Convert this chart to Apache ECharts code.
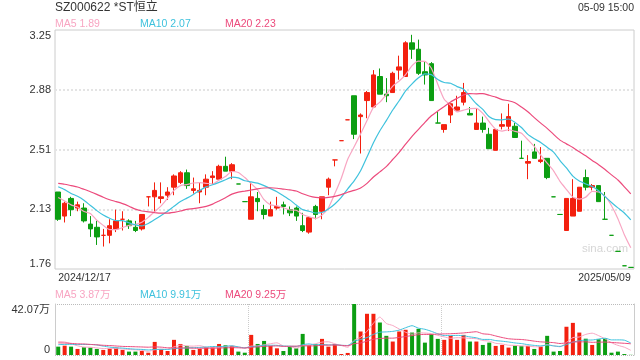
<!DOCTYPE html>
<html><head><meta charset="utf-8">
<script src="https://cdn.jsdelivr.net/npm/echarts@6/dist/echarts.min.js"></script>
<style>html,body{margin:0;padding:0;background:#fff}#c{width:640px;height:360px}</style>
</head><body><div id="c"></div>
<script>
const dates = ['2024/12/17','2024/12/18','2024/12/19','2024/12/20','2024/12/23','2024/12/24','2024/12/25','2024/12/26','2024/12/27','2024/12/30','2024/12/31',
'2025/01/02','2025/01/03','2025/01/06','2025/01/07','2025/01/08','2025/01/09','2025/01/10','2025/01/13','2025/01/14','2025/01/15','2025/01/16','2025/01/17','2025/01/20','2025/01/21','2025/01/22','2025/01/23','2025/01/24','2025/01/27',
'2025/02/10','2025/02/11','2025/02/12','2025/02/13','2025/02/14','2025/02/17','2025/02/18','2025/02/19','2025/02/20','2025/02/21','2025/02/24','2025/02/25','2025/02/26','2025/02/27','2025/02/28',
'2025/03/03','2025/03/04','2025/03/05','2025/03/06','2025/03/07','2025/03/10','2025/03/11','2025/03/12','2025/03/13','2025/03/14','2025/03/17','2025/03/18','2025/03/19','2025/03/20','2025/03/21','2025/03/24','2025/03/25','2025/03/26','2025/03/27','2025/03/28','2025/03/31',
'2025/04/01','2025/04/02','2025/04/03','2025/04/07','2025/04/08','2025/04/09','2025/04/10','2025/04/11','2025/04/14','2025/04/15','2025/04/16','2025/04/17','2025/04/18','2025/04/21','2025/04/22','2025/04/23','2025/04/24','2025/04/25','2025/04/28','2025/04/29','2025/04/30',
'2025/05/06','2025/05/07','2025/05/08','2025/05/09'];

const openP  = [2.24,2.09,2.20,2.14,2.14,2.04,2.02,1.97,1.97,2.01,2.07,2.06,2.02,2.01,2.21,2.21,2.20,2.22,2.27,2.30,
                2.36,2.25,2.24,2.27,2.33,2.32,2.40,2.37,2.29,2.18,2.07,2.20,2.13,2.09,2.14,2.16,2.13,2.14,2.03,1.99,
                2.15,2.12,2.27,2.44,2.56,2.69,2.84,2.71,2.81,2.77,2.96,2.85,2.86,3.00,2.96,3.17,3.13,2.99,3.04,2.67,
                2.63,2.72,2.75,2.80,2.73,2.63,2.67,2.60,2.50,2.65,2.65,2.65,2.45,2.42,2.49,2.43,2.45,2.21,2.10,2.00,
                2.09,2.12,2.33,2.27,2.28,2.07,1.97,1.87,1.78,1.77];
const closeP = [2.07,2.17,2.13,2.16,2.06,2.01,1.96,1.97,2.03,2.06,2.07,2.03,2.00,2.10,2.21,2.25,2.21,2.24,2.34,2.36,
                2.28,2.26,2.25,2.32,2.34,2.40,2.37,2.41,2.29,2.18,2.21,2.18,2.10,2.13,2.15,2.15,2.11,2.09,2.00,2.08,
                2.10,2.21,2.32,2.44,2.56,2.69,2.60,2.72,2.86,2.97,2.85,2.84,2.98,3.02,3.17,3.13,2.98,2.97,2.81,2.67,
                2.66,2.79,2.77,2.86,2.72,2.67,2.63,2.51,2.63,2.66,2.71,2.58,2.45,2.43,2.45,2.44,2.33,2.21,2.10,2.20,
                2.20,2.27,2.27,2.28,2.18,2.07,1.97,1.87,1.78,1.77];
const lowP   = [2.06,2.05,2.09,2.12,2.05,1.96,1.91,1.90,1.92,1.99,2.00,2.01,1.99,2.00,2.15,2.11,2.17,2.19,2.22,2.29,
                2.26,2.23,2.17,2.22,2.29,2.32,2.37,2.32,2.29,2.18,2.07,2.12,2.07,2.09,2.13,2.10,2.09,2.06,1.99,1.98,
                2.07,2.07,2.22,2.40,2.56,2.69,2.57,2.48,2.70,2.77,2.85,2.80,2.86,2.94,2.96,3.07,2.97,2.91,2.81,2.67,
                2.61,2.67,2.75,2.78,2.72,2.63,2.61,2.51,2.50,2.63,2.62,2.58,2.45,2.32,2.45,2.42,2.32,2.21,2.10,2.00,
                2.09,2.12,2.25,2.25,2.18,2.07,1.97,1.87,1.78,1.77];
const highP  = [2.24,2.18,2.21,2.18,2.17,2.09,2.06,2.01,2.07,2.13,2.12,2.07,2.06,2.10,2.21,2.30,2.30,2.27,2.35,2.37,
                2.38,2.33,2.30,2.35,2.37,2.41,2.46,2.42,2.29,2.18,2.30,2.24,2.16,2.18,2.21,2.18,2.15,2.15,2.11,2.09,
                2.16,2.21,2.33,2.44,2.56,2.69,2.84,2.73,2.87,3.00,3.01,2.95,2.99,3.09,3.18,3.22,3.19,3.05,3.05,2.74,
                2.66,2.79,2.84,2.92,2.77,2.76,2.71,2.64,2.63,2.73,2.79,2.67,2.56,2.47,2.54,2.52,2.45,2.21,2.10,2.20,
                2.32,2.27,2.38,2.29,2.28,2.24,1.97,1.87,1.78,1.77];
// volume in 万
const volume = [6.9,7.7,6.9,5.0,6.4,6.1,5.0,4.2,5.3,6.1,4.2,2.8,2.8,3.3,1.9,10.8,5.0,3.3,12.5,9.1,
                7.5,4.2,5.0,6.4,6.4,9.1,8.0,7.5,2.8,1.9,16.6,9.1,11.6,7.5,5.5,3.3,6.9,5.5,17.4,8.0,
                8.9,13.3,6.9,9.1,0.8,1.7,42.07,19.4,34.0,34.0,26.8,15.8,11.1,19.4,20.8,18.5,21.6,10.2,17.2,13.3,
                12.5,15.8,12.5,16.6,11.1,11.1,8.3,10.2,7.5,8.3,6.1,7.7,7.5,7.5,5.0,6.9,15.8,2.8,3.3,23.3,
                26.5,18.5,13.45,8.3,13.0,13.7,1.9,2.8,0.8,0.15];
// sessions before the visible window (used only for the moving averages)
const priorClose = [2.28,2.30,2.33,2.35,2.31,2.29,2.33,2.34,2.30,2.32,2.35,2.37,2.33,2.31,2.34,2.28,2.25,2.23,2.20];
const priorVolume = [10,13,12,9,14,11,12,10,13,11,5.5,6.0,7.0,5.5,6.0,9.0,14.0,13.6,11.5];
const priceTicks = ['1.76','2.13','2.51','2.88','3.25'];
const volTicks = ['0','42.07万'];
const xLabels = ['2024/12/17','2025/05/09'];

const RED = '#f3200f', GREEN = '#0c9e12';
const C5 = '#f8a5c2', C10 = '#3fc2dd', C20 = '#ec4a7c';
const FONT = '"Liberation Sans", Arial, "Noto Sans CJK SC", sans-serif';

function ma(n, prior, vals) {
  const all = prior.concat(vals), out = [];
  for (let i = 0; i < vals.length; i++) {
    const end = prior.length + i; let s = 0;
    for (let k = end - n + 1; k <= end; k++) s += all[k];
    out.push(+(s / n).toFixed(4));
  }
  return out;
}
const kData = dates.map((d, i) => [openP[i], closeP[i], lowP[i], highP[i]]);
const dir = closeP.map((c, i) => {
  const o = openP[i];
  if (c > o) return 1; if (c < o) return -1;
  const pc = i > 0 ? closeP[i - 1] : priorClose[priorClose.length - 1];
  return pc <= c ? 1 : -1;
});
const ma5 = ma(5, priorClose, closeP), ma10 = ma(10, priorClose, closeP), ma20 = ma(20, priorClose, closeP);
const vma5 = ma(5, priorVolume, volume), vma10 = ma(10, priorVolume, volume), vma20 = ma(20, priorVolume, volume);
const last = a => a[a.length - 1];
const f2 = v => (Math.round(v * 100) / 100).toFixed(2);

const chart = echarts.init(document.getElementById('c'));
const txt = (x, y, text, color, size, align) => ({
  type: 'text', x: x, y: y, silent: true,
  style: { text: text, fill: color, font: size + 'px ' + FONT, align: align || 'left', verticalAlign: 'middle' }
});
const lineSeries = (name, data, color, xi, yi, w) => ({
  name: name, type: 'line', data: data, xAxisIndex: xi, yAxisIndex: yi, symbol: 'none', smooth: 0.2,
  lineStyle: { color: color, width: w }, silent: true, z: 3
});
const dotted = { color: '#e4e4e4', width: 2, type: [2, 2] };

chart.setOption({
  animation: false,
  textStyle: { fontFamily: FONT },
  grid: [
    { left: 55, top: 30, width: 579, height: 239, show: true, borderColor: '#cccccc', borderWidth: 1, backgroundColor: 'transparent' },
    { left: 55, top: 304, width: 579, height: 51 }
  ],
  graphic: [
    txt(55, 8, 'SZ000622 *ST恒立', '#333', 12),
    txt(634, 8, '05-09 15:00', '#333', 10.5, 'right'),
    txt(55, 24, 'MA5 ' + f2(last(ma5)), C5, 10.5),
    txt(140, 24, 'MA10 ' + f2(last(ma10)), C10, 10.5),
    txt(225, 24, 'MA20 ' + f2(last(ma20)), C20, 10.5),
    txt(55, 295, 'MA5 ' + f2(last(vma5)) + '万', C5, 10.5),
    txt(140, 295, 'MA10 ' + f2(last(vma10)) + '万', C10, 10.5),
    txt(225, 295, 'MA20 ' + f2(last(vma20)) + '万', C20, 10.5),
    txt(582, 249, 'sina.com', '#d6d6d6', 11.5)
  ],
  xAxis: [
    { type: 'category', data: dates, gridIndex: 0, boundaryGap: true,
      axisLine: { show: false }, axisTick: { show: false }, splitLine: { show: false },
      axisLabel: { interval: (i) => i === 0 || i === dates.length - 1, margin: 4, fontSize: 10.5, color: '#333',
        alignMinLabel: 'left', alignMaxLabel: 'right',
        formatter: (v, i) => (i === 0 ? xLabels[0] : xLabels[1]) } },
    { type: 'category', data: dates, gridIndex: 1, boundaryGap: true,
      axisLine: { show: false }, axisTick: { show: false }, axisLabel: { show: false },
      splitLine: { show: true, interval: (i) => i === 30 || i === 60, lineStyle: { color: '#cccccc', width: 1, type: 'dotted' } } }
  ],
  yAxis: [
    { type: 'value', gridIndex: 0, min: 1.76, max: 3.25, interval: 0.3725, scale: true,
      axisLine: { show: false }, axisTick: { show: false },
      splitLine: { show: true, showMinLine: false, showMaxLine: false, lineStyle: dotted },
      axisLabel: { margin: 4, fontSize: 11, color: '#333',
        formatter: (v, i) => i === 0 ? '{b|' + priceTicks[0] + '}' : (i === priceTicks.length - 1 ? '{t|' + priceTicks[i] + '}' : priceTicks[i]),
        rich: { t: { fontSize: 11, color: '#333', padding: [11, 0, 0, 0] }, b: { fontSize: 11, color: '#333', padding: [0, 0, 11, 0] } } } },
    { type: 'value', gridIndex: 1, min: 0, max: 42.07, interval: 42.07,
      axisLine: { show: true, lineStyle: { color: '#cccccc' } }, axisTick: { show: false },
      splitLine: { show: true, lineStyle: { color: '#bbbbbb', width: 1, type: 'dotted' } },
      axisLabel: { margin: 5, fontSize: 11, color: '#333',
        formatter: (v, i) => i === 0 ? '{b|' + volTicks[0] + '}' : '{t|' + volTicks[1] + '}',
        rich: { t: { fontSize: 11, color: '#333', padding: [11, 0, 0, 0] }, b: { fontSize: 11, color: '#333', padding: [0, 0, 11, 0] } } } },
    { type: 'value', gridIndex: 1, position: 'right', min: 0, max: 1,
      axisLine: { show: true, lineStyle: { color: '#cccccc' } }, axisTick: { show: false },
      axisLabel: { show: false }, splitLine: { show: false } }
  ],
  series: [
    { name: 'K', type: 'candlestick', data: kData, xAxisIndex: 0, yAxisIndex: 0, barWidth: 5, silent: true,
      itemStyle: { color: RED, color0: GREEN, borderColor: RED, borderColor0: GREEN, borderWidth: 1 } },
    lineSeries('MA5', ma5, C5, 0, 0, 1.2),
    lineSeries('MA10', ma10, C10, 0, 0, 1.2),
    lineSeries('MA20', ma20, C20, 0, 0, 1.2),
    { name: 'VOL', type: 'bar', data: volume, xAxisIndex: 1, yAxisIndex: 1, barWidth: 4, silent: true,
      itemStyle: { color: (p) => dir[p.dataIndex] > 0 ? RED : GREEN } },
    lineSeries('VMA5', vma5, C5, 1, 1, 1),
    lineSeries('VMA10', vma10, C10, 1, 1, 1),
    lineSeries('VMA20', vma20, C20, 1, 1, 1)
  ]
});
</script>
</body></html>
